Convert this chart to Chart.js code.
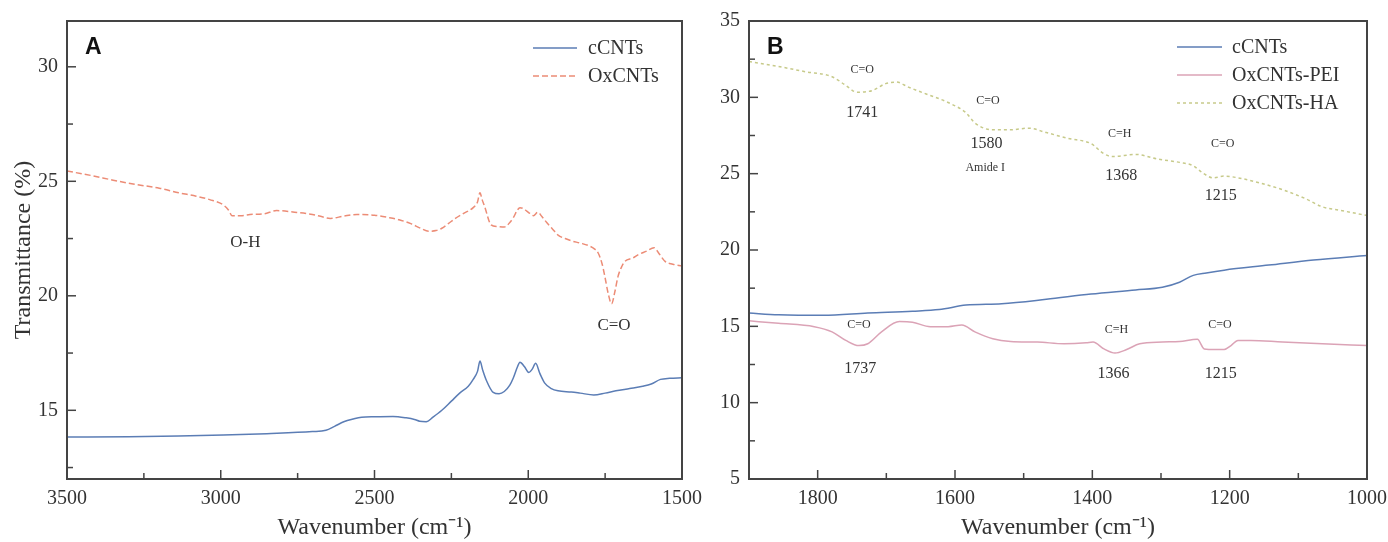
<!DOCTYPE html>
<html>
<head>
<meta charset="utf-8">
<script src="https://cdn.jsdelivr.net/npm/chart.js@4.4.1/dist/chart.umd.min.js"></script>
<style>
html, body { margin: 0; padding: 0; background: #fff; }
#wrap { position: relative; width: 1388px; height: 542px; overflow: hidden; }
#chartA { position: absolute; left: 0; top: 0; }
#chartB { position: absolute; left: 712px; top: 0; }
</style>
</head>
<body>
<div id="wrap">
  <canvas id="chartA" width="712" height="542"></canvas>
  <canvas id="chartB" width="676" height="542"></canvas>
</div>
<script>
// Panel A - cCNTs / OxCNTs (3500-1500 cm-1)
const waveA_cCNTs = [3500,3300,3137,2992,2850,2702,2658,2630,2600,2570,2542,2500,2440,2397,2370,2353,2332,2310,2281,2250,2223,2195,2179,2165,2157,2148,2136,2114,2095,2078,2060,2049,2035,2027,2012,1998,1987,1976,1962,1947,1925,1903,1860,1831,1787,1750,1715,1670,1628,1600,1570,1540,1500];
const transA_cCNTs = [13.83,13.85,13.88,13.92,13.98,14.07,14.13,14.3,14.5,14.62,14.7,14.72,14.73,14.67,14.6,14.52,14.5,14.7,15.0,15.4,15.75,16.05,16.35,16.7,17.15,16.75,16.3,15.78,15.72,15.82,16.1,16.4,16.9,17.1,16.9,16.65,16.8,17.05,16.6,16.2,15.95,15.85,15.8,15.75,15.67,15.75,15.85,15.95,16.05,16.15,16.35,16.4,16.42];

const waveA_OxCNTs = [3500,3420,3350,3280,3200,3137,3080,3036,2992,2975,2963,2935,2905,2860,2818,2760,2702,2670,2644,2600,2557,2500,2455,2420,2382,2350,2324,2300,2281,2260,2237,2210,2179,2165,2157,2150,2143,2121,2100,2078,2060,2049,2035,2027,2015,2005,1995,1983,1969,1955,1940,1920,1903,1880,1860,1830,1802,1785,1773,1760,1751,1740,1729,1718,1708,1695,1686,1660,1642,1615,1591,1575,1555,1530,1500];
const transA_OxCNTs = [25.45,25.25,25.05,24.87,24.7,24.5,24.35,24.2,23.97,23.75,23.5,23.5,23.55,23.58,23.72,23.65,23.55,23.45,23.38,23.48,23.55,23.52,23.42,23.32,23.15,22.95,22.82,22.85,22.95,23.15,23.38,23.6,23.85,24.1,24.5,24.2,23.95,23.1,23.02,23.0,23.2,23.4,23.75,23.85,23.8,23.7,23.6,23.5,23.65,23.45,23.2,22.9,22.65,22.5,22.4,22.3,22.18,22.05,21.88,21.4,20.85,20.1,19.65,20.2,20.85,21.3,21.5,21.65,21.8,21.95,22.1,21.85,21.5,21.38,21.3];

// Panel B - cCNTs / OxCNTs-PEI / OxCNTs-HA (1900-1000 cm-1)
const waveB_cCNTs = [1900,1857,1792,1727,1662,1623,1584,1532,1467,1402,1337,1298,1273,1253,1234,1208,1143,1078,1000];
const transB_cCNTs = [15.87,15.76,15.72,15.87,15.99,16.1,16.39,16.48,16.77,17.11,17.38,17.56,17.89,18.34,18.5,18.68,19.01,19.35,19.64];

const waveB_PEI = [1900,1857,1805,1779,1759,1740,1727,1707,1681,1662,1636,1610,1590,1571,1545,1519,1480,1441,1409,1399,1383,1367,1350,1331,1298,1273,1247,1237,1221,1208,1198,1188,1169,1123,1065,1000];
const transB_PEI = [15.36,15.2,14.98,14.64,14.08,13.74,13.86,14.64,15.31,15.27,14.98,14.98,15.09,14.64,14.19,14.01,13.97,13.86,13.92,13.97,13.52,13.25,13.48,13.86,13.97,14.01,14.15,13.52,13.48,13.48,13.74,14.08,14.08,13.97,13.86,13.74];

const waveB_HA = [1900,1857,1818,1779,1759,1743,1720,1701,1685,1668,1642,1610,1584,1571,1545,1519,1493,1467,1435,1402,1383,1370,1337,1305,1273,1253,1240,1224,1208,1188,1156,1123,1091,1065,1039,1000];
const transB_HA = [32.35,32.02,31.68,31.35,30.78,30.34,30.45,30.9,31.0,30.67,30.22,29.66,28.99,28.32,27.87,27.87,27.98,27.69,27.31,26.97,26.3,26.12,26.26,25.96,25.74,25.52,25.07,24.73,24.84,24.73,24.39,23.95,23.39,22.83,22.6,22.26];

// ticks
const xMajorA = [3500,3000,2500,2000,1500];
const xMinorA = [3250,2750,2250,1750];
const yMajorA = [15,20,25,30];
const yMinorA = [12.5,17.5,22.5,27.5];
const xMajorB = [1800,1600,1400,1200,1000];
const xMinorB = [1900,1700,1500,1300,1100];
const yMajorB = [5,10,15,20,25,30,35];
const yMinorB = [7.5,12.5,17.5,22.5,27.5,32.5];

// peak labels
const labelsA = [
  { text: 'O-H', x: 2920, y: 22.33, size: 17 },
  { text: 'C=O', x: 1721, y: 18.72, size: 17 }
];
const labelsB = [
  { text: 'C=O', x: 1735, y: 31.8, size: 12 },
  { text: '1741', x: 1735, y: 29.0, size: 16 },
  { text: 'C=O', x: 1552, y: 29.78, size: 12 },
  { text: '1580', x: 1554, y: 26.97, size: 16 },
  { text: 'Amide I', x: 1556, y: 25.35, size: 12 },
  { text: 'C=H', x: 1360, y: 27.58, size: 12 },
  { text: '1368', x: 1358, y: 24.84, size: 16 },
  { text: 'C=O', x: 1210, y: 26.93, size: 12 },
  { text: '1215', x: 1213, y: 23.54, size: 16 },
  { text: 'C=O', x: 1740, y: 15.09, size: 12 },
  { text: '1737', x: 1738, y: 12.22, size: 16 },
  { text: 'C=H', x: 1365, y: 14.75, size: 12 },
  { text: '1366', x: 1369, y: 11.88, size: 16 },
  { text: 'C=O', x: 1214, y: 15.09, size: 12 },
  { text: '1215', x: 1213, y: 11.88, size: 16 }
];

const SERIF = '"Liberation Serif", "Times New Roman", serif';
const INK = '#333';

function pts(xs, ys) {
  return xs.map((x, i) => ({ x: x, y: ys[i] }));
}

// frame, inward ticks, legend, peak labels, panel letter
const decor = {
  id: 'decor',
  afterDatasetsDraw(chart, args, o) {
    const ctx = chart.ctx;
    const a = chart.chartArea;
    const sx = chart.scales.x, sy = chart.scales.y;
    ctx.save();
    ctx.strokeStyle = '#444';
    ctx.lineWidth = 1.5;
    sx.ticks.forEach(t => {
      const p = sx.getPixelForValue(t.value);
      const len = o.xMajor.includes(t.value) ? 9 : 6;
      ctx.beginPath(); ctx.moveTo(p, a.bottom); ctx.lineTo(p, a.bottom - len); ctx.stroke();
    });
    sy.ticks.forEach(t => {
      const p = sy.getPixelForValue(t.value);
      const len = o.yMajor.includes(t.value) ? 9 : 6;
      ctx.beginPath(); ctx.moveTo(a.left, p); ctx.lineTo(a.left + len, p); ctx.stroke();
    });
    ctx.lineWidth = 2;
    ctx.strokeRect(a.left, a.top, a.right - a.left, a.bottom - a.top);

    // peak labels
    ctx.fillStyle = INK;
    ctx.textAlign = 'center';
    ctx.textBaseline = 'middle';
    o.labels.forEach(l => {
      ctx.font = l.size + 'px ' + SERIF;
      ctx.fillText(l.text, sx.getPixelForValue(l.x), sy.getPixelForValue(l.y));
    });

    // legend
    ctx.textAlign = 'left';
    ctx.font = '20px ' + SERIF;
    chart.data.datasets.forEach((ds, i) => {
      const y = o.legend.y0 + i * o.legend.dy;
      ctx.strokeStyle = ds.borderColor;
      ctx.lineWidth = 1.5;
      ctx.setLineDash(ds.borderDash || []);
      ctx.beginPath(); ctx.moveTo(o.legend.x0, y); ctx.lineTo(o.legend.x1, y); ctx.stroke();
      ctx.setLineDash([]);
      ctx.fillStyle = INK;
      ctx.fillText(ds.label, o.legend.tx, y + 1);
    });

    // panel letter
    ctx.font = 'bold 23px "Liberation Sans", Arial, sans-serif';
    ctx.fillStyle = '#111';
    ctx.fillText(o.letter, a.left + 18, a.top + 27);
    ctx.restore();
  }
};

function makeChart(id, datasets, cfg) {
  return new Chart(document.getElementById(id), {
    type: 'line',
    data: { datasets: datasets },
    plugins: [decor],
    options: {
      responsive: false,
      animation: false,
      devicePixelRatio: 1,
      layout: { padding: { top: 18, right: cfg.padRight, bottom: 0, left: 0 } },
      elements: { point: { radius: 0 }, line: { borderWidth: 1.5, cubicInterpolationMode: 'monotone' } },
      plugins: {
        legend: { display: false },
        tooltip: { enabled: false },
        decor: {
          xMajor: cfg.xMajor, yMajor: cfg.yMajor,
          labels: cfg.labels, legend: cfg.legend, letter: cfg.letter
        }
      },
      scales: {
        x: {
          type: 'linear', reverse: true, min: cfg.xMin, max: cfg.xMax,
          afterBuildTicks: s => { s.ticks = cfg.xMajor.concat(cfg.xMinor).map(v => ({ value: v })); },
          afterFit: s => { s.height = 63; },
          grid: { display: false, drawTicks: false },
          border: { display: false },
          ticks: {
            autoSkip: false, maxRotation: 0, padding: 8, color: INK,
            font: { family: SERIF, size: 20 },
            callback: v => cfg.xMajor.includes(v) ? String(v) : ''
          },
          title: {
            display: true, text: 'Wavenumber (cm\u207B\u00B9)', color: INK,
            font: { family: SERIF, size: 24 }, padding: { top: 0, bottom: 0 }
          }
        },
        y: {
          type: 'linear', min: cfg.yMin, max: cfg.yMax,
          afterBuildTicks: s => { s.ticks = cfg.yMajor.concat(cfg.yMinor).map(v => ({ value: v })); },
          afterFit: s => { s.width = cfg.yWidth; },
          grid: { display: false, drawTicks: false },
          border: { display: false },
          ticks: {
            autoSkip: false, padding: 9, color: INK,
            font: { family: SERIF, size: 20 },
            callback: v => cfg.yMajor.includes(v) ? String(v) : ''
          },
          title: {
            display: !!cfg.yTitle, text: cfg.yTitle || '', color: INK,
            font: { family: SERIF, size: 24 }, padding: { top: 9, bottom: 0 }
          }
        }
      }
    }
  });
}

makeChart('chartA', [
  { label: 'cCNTs', data: pts(waveA_cCNTs, transA_cCNTs), borderColor: '#5b7db5' },
  { label: 'OxCNTs', data: pts(waveA_OxCNTs, transA_OxCNTs), borderColor: '#ec8c76', borderDash: [6, 3] }
], {
  xMin: 1500, xMax: 3500, yMin: 12, yMax: 32,
  xMajor: xMajorA, xMinor: xMinorA, yMajor: yMajorA, yMinor: yMinorA,
  yWidth: 67, padRight: 30, yTitle: 'Transmittance (%)',
  labels: labelsA, letter: 'A',
  legend: { x0: 533, x1: 577, tx: 588, y0: 48, dy: 28 }
});

makeChart('chartB', [
  { label: 'cCNTs', data: pts(waveB_cCNTs, transB_cCNTs), borderColor: '#5b7db5' },
  { label: 'OxCNTs-PEI', data: pts(waveB_PEI, transB_PEI), borderColor: '#dba3b6' },
  { label: 'OxCNTs-HA', data: pts(waveB_HA, transB_HA), borderColor: '#c7ca8a', borderDash: [3, 3] }
], {
  xMin: 1000, xMax: 1900, yMin: 5, yMax: 35,
  xMajor: xMajorB, xMinor: xMinorB, yMajor: yMajorB, yMinor: yMinorB,
  yWidth: 37, padRight: 21, yTitle: '',
  labels: labelsB, letter: 'B',
  legend: { x0: 465, x1: 510, tx: 520, y0: 47, dy: 28 }
});
</script>
</body>
</html>
